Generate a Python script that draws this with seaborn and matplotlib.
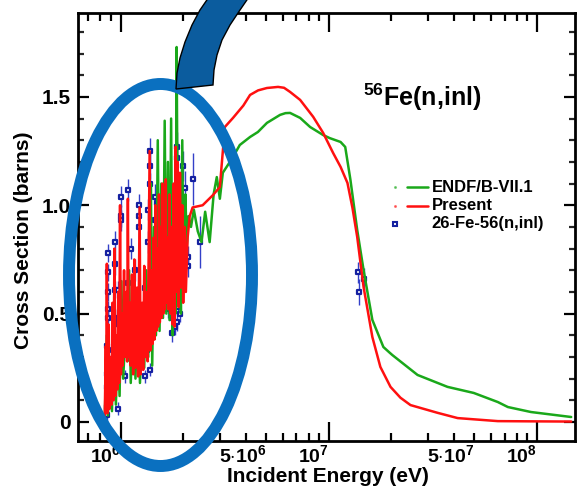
import numpy as np
import pandas as pd
import matplotlib
matplotlib.use("Agg")
import matplotlib.pyplot as plt
import seaborn as sns
from matplotlib.patches import Ellipse, Polygon
from matplotlib.ticker import FixedLocator, FixedFormatter, MultipleLocator

# ---------------- data (energies in MeV, cross sections in barns) ----------------
present_E = [0.84, 0.85, 0.855, 0.86, 0.865, 0.875, 0.885, 0.895, 0.905, 0.915,
             0.925, 0.935, 0.945, 0.955, 0.965, 0.975, 0.985, 0.995, 1.005, 1.015,
             1.025, 1.04, 1.05, 1.065, 1.075, 1.085, 1.095, 1.11, 1.12, 1.135,
             1.15, 1.165, 1.18, 1.2, 1.215, 1.235, 1.25, 1.27, 1.285, 1.30,
             1.32, 1.335, 1.35, 1.38, 1.39, 1.41, 1.425, 1.44, 1.455, 1.47,
             1.485, 1.50, 1.515, 1.53, 1.545, 1.56, 1.575, 1.59, 1.605, 1.62,
             1.635, 1.65, 1.665, 1.68, 1.70, 1.72, 1.74, 1.76, 1.78, 1.80,
             1.82, 1.84, 1.86, 1.88, 1.90, 1.93, 1.95, 1.98, 2.00, 2.03,
             2.06, 2.10, 2.15, 2.22, 2.48, 2.78, 3.0, 3.17, 3.47, 3.89,
             4.19, 4.58, 5.05, 5.71, 6.1, 6.52, 7.29, 8.42, 9.40, 10.5, 11.4, 12.3,
             13.0, 13.7, 14.7, 16.2, 17.7, 19.8, 22.1, 24.7, 33.4, 41.6, 64.9,
             93.6, 146.0]
present_xs = [0.02, 0.35, 0.05, 0.73, 0.04, 0.45, 0.06, 0.30, 0.08, 0.55,
              0.10, 0.80, 0.12, 0.40, 0.15, 0.60, 0.18, 1.00, 0.22, 0.50,
              0.26, 0.70, 0.30, 0.60, 0.28, 1.03, 0.30, 0.55, 0.26, 0.68,
              0.22, 0.75, 0.25, 0.62, 0.21, 0.99, 0.22, 0.55, 0.24, 0.72,
              0.30, 0.60, 0.28, 1.25, 0.33, 0.70, 0.36, 0.85, 0.38, 1.00,
              0.42, 0.80, 0.44, 1.05, 0.46, 0.90, 0.48, 1.10, 0.50, 0.95,
              0.52, 1.12, 0.55, 0.85, 0.52, 1.05, 0.50, 0.90, 0.45, 1.10,
              0.44, 1.27, 0.60, 1.20, 0.53, 1.15, 0.62, 1.00, 0.55, 0.90,
              0.60, 0.85, 0.95, 0.99, 1.00, 1.047, 1.084, 1.361, 1.403, 1.46,
              1.509, 1.53, 1.541, 1.546, 1.542, 1.523, 1.486, 1.408, 1.334, 1.241, 1.177, 1.103,
              0.988, 0.854, 0.623, 0.392, 0.254, 0.162, 0.112, 0.078, 0.042, 0.018, 0.004,
              0.003, 0.002]

endf_E = [0.84, 0.86, 0.87, 0.89, 0.91, 0.93, 0.95, 0.97, 0.99, 1.01,
          1.03, 1.06, 1.08, 1.10, 1.12, 1.15, 1.18, 1.21, 1.24, 1.27,
          1.30, 1.33, 1.36, 1.40, 1.42, 1.45, 1.48, 1.51, 1.54, 1.57,
          1.60, 1.63, 1.66, 1.69, 1.72, 1.75, 1.78, 1.81, 1.84, 1.86,
          1.89, 1.92, 1.95, 1.98, 2.01, 2.05, 2.08, 2.12, 2.18, 2.25,
          2.35, 2.45, 2.55, 2.68, 2.80, 2.90, 3.0, 3.1, 3.3, 3.47,
          3.74, 4.19, 4.57, 5.05, 5.84, 6.2, 6.52, 7.29, 8.14, 9.40, 10.1, 11.4,
          12.0, 12.7, 13.7, 14.7, 16.2, 18.3, 19.6, 20.2, 26.7, 37.2,
          49.7, 64.9, 72.5, 93.6, 146.0]
endf_xs = [0.01, 0.40, 0.03, 0.25, 0.05, 0.50, 0.08, 0.35, 0.12, 0.65,
           0.20, 0.45, 0.28, 0.70, 0.18, 0.50, 0.20, 0.60, 0.18, 0.45,
           0.25, 0.70, 0.30, 1.10, 0.26, 0.90, 0.40, 1.30, 0.42, 1.10,
           0.48, 1.39, 0.50, 1.20, 0.47, 1.40, 0.40, 1.00, 0.50, 1.73,
           0.55, 1.10, 0.50, 1.30, 0.60, 1.05, 0.80, 0.95, 0.90, 0.98,
           0.88, 0.83, 0.97, 0.83, 1.05, 1.13, 1.03, 1.15, 1.19, 1.223,
           1.278, 1.315, 1.338, 1.380, 1.417, 1.425, 1.426, 1.403, 1.361, 1.324, 1.31, 1.292,
           1.269, 1.12, 0.886, 0.701, 0.471, 0.346, 0.32, 0.309, 0.217, 0.162,
           0.134, 0.092, 0.069, 0.046, 0.023]

exp_E = [0.871, 0.871, 0.871, 0.871, 0.871, 0.871, 0.871, 0.871, 0.871, 0.862,
         0.862, 0.862, 0.862, 0.862, 0.941, 0.941, 0.941, 0.941, 0.973, 0.973,
         0.973, 0.973, 1.006, 1.006, 1.006, 1.028, 1.028, 1.051, 1.087, 1.087,
         1.123, 1.174, 1.174, 1.174, 1.227, 1.227, 1.227, 1.312, 1.312, 1.341,
         1.341, 1.356, 1.356, 1.386, 1.386, 1.386, 1.386, 1.414, 1.465, 1.465,
         1.497, 1.514, 1.548, 1.583, 1.672, 1.691, 1.768, 1.768, 1.829, 1.869,
         1.869, 1.869, 1.869, 1.890, 1.925, 1.925, 1.996, 2.041, 2.110, 2.110,
         2.230, 2.411, 13.8, 14.7, 13.9]
exp_xs = [0.78, 0.69, 0.60, 0.52, 0.48, 0.33, 0.29, 0.18, 0.13, 0.07,
          0.03, 0.22, 0.16, 0.35, 0.83, 0.73, 0.61, 0.48, 0.61, 0.32,
          0.06, 0.45, 1.04, 0.95, 0.93, 0.44, 0.38, 0.21, 1.07, 0.64,
          0.80, 0.70, 0.41, 0.27, 1.00, 0.95, 0.90, 0.62, 0.21, 0.39,
          0.33, 0.83, 0.98, 1.25, 1.18, 1.10, 0.24, 0.42, 1.04, 0.93,
          1.01, 0.53, 0.93, 0.69, 0.70, 0.52, 0.48, 0.41, 0.44, 1.27,
          1.22, 1.06, 0.46, 0.53, 0.99, 0.50, 1.18, 1.08, 0.76, 0.72,
          1.12, 0.83, 0.69, 0.66, 0.60]
exp_err = [0.04, 0.04, 0.04, 0.04, 0.03, 0.03, 0.03, 0.03, 0.03, 0.03,
           0.03, 0.03, 0.03, 0.03, 0.05, 0.05, 0.04, 0.04, 0.04, 0.03,
           0.03, 0.04, 0.05, 0.05, 0.05, 0.04, 0.04, 0.03, 0.05, 0.04,
           0.05, 0.05, 0.04, 0.03, 0.05, 0.05, 0.05, 0.04, 0.03, 0.04,
           0.03, 0.05, 0.05, 0.06, 0.06, 0.05, 0.03, 0.04, 0.06, 0.05,
           0.06, 0.04, 0.05, 0.04, 0.05, 0.04, 0.04, 0.04, 0.04, 0.07,
           0.07, 0.06, 0.04, 0.04, 0.06, 0.04, 0.07, 0.08, 0.05, 0.05,
           0.12, 0.12, 0.05, 0.05, 0.06]

x_tick_vals = [1e6, 1e7, 1e8]
x_tick_labels = ["$10^{6}$", "$10^{7}$", "$10^{8}$"]
y_tick_vals = [0, 0.5, 1.0, 1.5]
y_tick_labels = ["0", "0.5", "1.0", "1.5"]
series_names = ["ENDF/B-VII.1", "Present", "26-Fe-56(n,inl)"]
title_text = "$^{56}$Fe(n,inl)"

GREEN = "#1aa81a"
RED = "#ff1010"
NAVY = "#1420a0"
EBLUE = "#3340c8"

# ---------------- style ----------------
sns.set_theme(style="ticks")
plt.rcParams["font.family"] = ["Liberation Sans", "DejaVu Sans"]
plt.rcParams["font.weight"] = "bold"
plt.rcParams["mathtext.fontset"] = "custom"
plt.rcParams["mathtext.rm"] = "Liberation Sans:bold"
plt.rcParams["mathtext.bf"] = "Liberation Sans:bold"
plt.rcParams["mathtext.it"] = "Liberation Sans:bold"
plt.rcParams["mathtext.default"] = "rm"

df_present = pd.DataFrame({"E": np.array(present_E) * 1e6, "xs": present_xs})
df_endf = pd.DataFrame({"E": np.array(endf_E) * 1e6, "xs": endf_xs})
df_exp = pd.DataFrame({"E": np.array(exp_E) * 1e6, "xs": exp_xs, "err": exp_err})

W, H = 580, 490
fig = plt.figure(figsize=(W / 100, H / 100), dpi=100)
ax = fig.add_axes([78 / W, 1 - 441 / H, 497 / W, 428 / H])
ax.set_xscale("log")

ax.errorbar(df_exp["E"], df_exp["xs"], yerr=df_exp["err"], fmt="none",
            ecolor=EBLUE, elinewidth=1.0, capsize=0, zorder=1)
sns.scatterplot(data=df_exp, x="E", y="xs", ax=ax, marker="s", s=12,
                facecolor="white", edgecolor=NAVY, linewidth=1.6, zorder=2,
                legend=False)
sns.lineplot(data=df_endf, x="E", y="xs", ax=ax, color=GREEN, lw=1.8,
             estimator=None, sort=False, zorder=3, legend=False)
sns.lineplot(data=df_present, x="E", y="xs", ax=ax, color=RED, lw=1.8,
             estimator=None, sort=False, zorder=4, legend=False)

# axis limits / ticks
ax.set_xlim(6.25e5, 1.523e8)
ax.set_ylim(-0.0877, 1.887)

minor_vals, minor_labels = [], []
for d in (5, 6, 7, 8):
    for k in range(2, 10):
        minor_vals.append(k * 10.0 ** d)
        minor_labels.append("$5{\\cdot}10^{%d}$" % d if (k == 5 and d in (6, 7)) else "")
ax.xaxis.set_major_locator(FixedLocator(x_tick_vals))
ax.xaxis.set_major_formatter(FixedFormatter(x_tick_labels))
ax.xaxis.set_minor_locator(FixedLocator(minor_vals))
ax.xaxis.set_minor_formatter(FixedFormatter(minor_labels))
ax.yaxis.set_major_locator(FixedLocator(y_tick_vals))
ax.yaxis.set_major_formatter(FixedFormatter(y_tick_labels))
ax.yaxis.set_minor_locator(MultipleLocator(0.1))

ax.tick_params(axis="x", which="major", direction="in", length=14, width=1.6,
               top=True, bottom=True, labelsize=14, pad=2, colors="black")
ax.tick_params(axis="x", which="minor", direction="in", length=6, width=1.6,
               top=True, bottom=True, labelsize=14, pad=2, colors="black")
ax.tick_params(axis="y", which="major", direction="in", length=8, width=1.6,
               left=True, right=True, labelsize=15, pad=5, colors="black")
ax.tick_params(axis="y", which="minor", direction="in", length=4, width=1.6,
               left=True, right=True)
for lab in ax.get_xticklabels(which="both"):
    lab.set_horizontalalignment("right")
    lab.set_fontweight("bold")
for lab in ax.get_yticklabels():
    lab.set_fontweight("bold")

for sp in ax.spines.values():
    sp.set_linewidth(2.0)
    sp.set_color("black")
    sp.set_visible(True)

ax.set_xlabel("Incident Energy (eV)", fontsize=15, fontweight="bold", color="black")
ax.set_ylabel("Cross Section (barns)", fontsize=15, fontweight="bold", color="black")
ax.xaxis.set_label_coords(0.503, -0.06)
ax.yaxis.set_label_coords(-0.09, 0.47)

ax.text(0.573, 0.782, title_text, transform=ax.transAxes, fontsize=18,
        fontweight="bold", ha="left", va="baseline", color="black")

# legend (drawn in axes fraction)
leg_rows = [0.593, 0.550, 0.508]
leg_colors = [GREEN, RED, None]
for yr, name, col in zip(leg_rows, series_names, leg_colors):
    if col is not None:
        ax.plot([0.638], [yr], marker="o", ms=1.2, color=col, alpha=0.5,
                transform=ax.transAxes, clip_on=False)
        ax.plot([0.662, 0.704], [yr, yr], color=col, lw=1.8,
                transform=ax.transAxes, clip_on=False)
    else:
        ax.plot([0.638], [yr], marker="s", ms=3.5, mfc="white", mec=NAVY, mew=1.5,
                transform=ax.transAxes, clip_on=False)
    ax.text(0.712, yr, name, transform=ax.transAxes, fontsize=12,
            fontweight="bold", ha="left", va="center", color="black")

# annotation: ellipse and curved arrow (figure pixel coordinates)
ell = Ellipse((160.5 / W, 1 - 275 / H), 183 / W, 382 / H, transform=fig.transFigure,
              fill=False, ec="#0a70c0", lw=8.6, zorder=20)
fig.add_artist(ell)

arrow_px = [(211, -6), (200, 10), (192, 25), (185, 42), (180, 58), (177, 73),
            (176, 89), (213, 85), (214, 70), (217, 55), (222, 40), (230, 25),
            (240, 10), (251, -6)]
arrow_fig = [(x / W, 1 - y / H) for x, y in arrow_px]
arr = Polygon(arrow_fig, closed=True, transform=fig.transFigure,
              fc="#0b5c9e", ec="black", lw=1.0, zorder=21)
fig.add_artist(arr)

fig.savefig("out.png", dpi=100)
